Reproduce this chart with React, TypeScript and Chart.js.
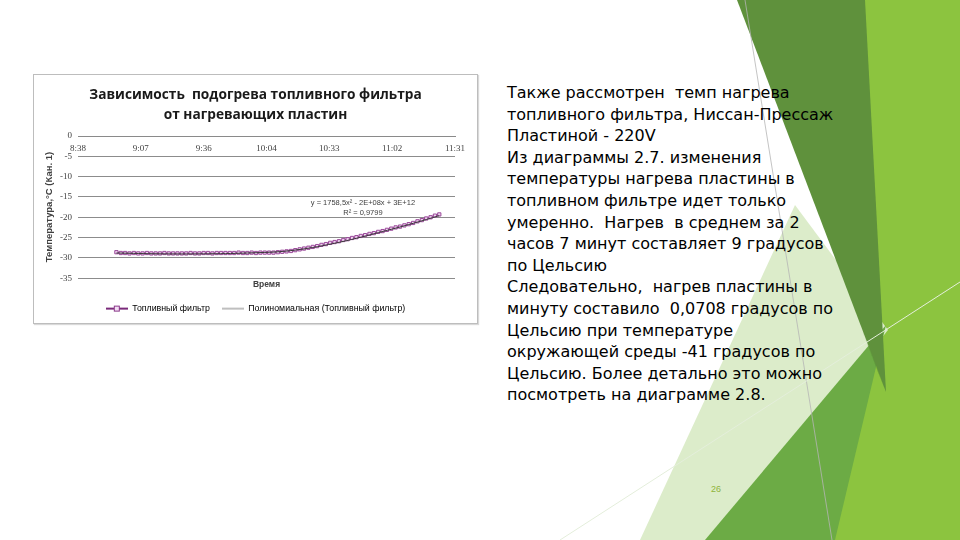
import React, { useEffect, useRef } from "react";
import { Chart, registerables } from "chart.js";

Chart.register(...registerables);

// ---------- chart data ----------
const chartTitle = ["Зависимость  подогрева топливного фильтра", "от нагревающих пластин"];
const yAxisTitle = "Температура,°С (Кан. 1)";
const xAxisTitle = "Время";
const seriesName = "Топливный фильтр";
const trendName = "Полиномиальная (Топливный фильтр)";
const equationLines = ["y = 1758,5x² - 2E+08x + 3E+12", "R² = 0,9799"];
const equationAnchorMinute = 649;
const equationAnchorTemp = -16.4;

// x axis: minutes since midnight
const xTickMinutes = [518.4, 547.2, 576, 604.8, 633.6, 662.4, 691.2];
const xTickLabels = ["8:38", "9:07", "9:36", "10:04", "10:33", "11:02", "11:31"];
const yTickValues = [0, -5, -10, -15, -20, -25, -30, -35];

const timeMinutes = [
  536, 538, 540, 542, 544, 546, 548, 550, 552, 554, 556, 558, 560, 562, 564, 566, 568, 570,
  572, 574, 576, 578, 580, 582, 584, 586, 588, 590, 592, 594, 596, 598, 600, 602, 604, 606,
  608, 610, 612, 614, 616, 618, 620, 622, 624, 626, 628, 630, 632, 634, 636, 638, 640, 642,
  644, 646, 648, 650, 652, 654, 656, 658, 660, 662, 664, 666, 668, 670, 672, 674, 676, 678,
  680, 682, 684,
];
const temperatures = [
  -28.6, -28.8, -28.8, -28.9, -28.8, -28.9, -28.9, -28.8, -28.9, -28.9, -28.9, -28.8, -28.9, -28.9, -28.9, -28.9, -28.9, -28.8,
  -28.9, -28.9, -28.8, -28.8, -28.9, -28.8, -28.8, -28.8, -28.8, -28.8, -28.7, -28.8, -28.8, -28.7, -28.8, -28.7, -28.7, -28.7,
  -28.7, -28.6, -28.5, -28.4, -28.3, -28.1, -27.9, -27.7, -27.5, -27.3, -27.1, -26.8, -26.6, -26.3, -26.1, -25.9, -25.6, -25.4,
  -25.1, -24.9, -24.6, -24.4, -24.1, -23.9, -23.6, -23.4, -23.1, -22.8, -22.5, -22.3, -22.0, -21.7, -21.4, -21.0, -20.7, -20.3,
  -20.0, -19.6, -19.3,
];
const trendMinutes = [536, 556, 576, 596, 616, 636, 656, 672, 684];
const trendValues = [-28.8, -29.0, -29.0, -28.8, -28.2, -26.4, -23.8, -21.5, -19.6];

function fmt(v: number) {
  const i = xTickMinutes.findIndex((m) => Math.abs(m - v) < 0.01);
  return i >= 0 ? xTickLabels[i] : "";
}

function makeSeriesIcon() {
  const c = document.createElement("canvas");
  c.width = 22;
  c.height = 8;
  const g = c.getContext("2d")!;
  g.strokeStyle = "#7a2a7a";
  g.lineWidth = 2;
  g.beginPath();
  g.moveTo(0, 4);
  g.lineTo(22, 4);
  g.stroke();
  g.fillStyle = "#f3dcf3";
  g.fillRect(8, 1.5, 6, 5);
  g.strokeStyle = "#8b3a8b";
  g.lineWidth = 1;
  g.strokeRect(8.5, 1.5, 5, 5);
  return c;
}
function makeTrendIcon() {
  const c = document.createElement("canvas");
  c.width = 22;
  c.height = 4;
  const g = c.getContext("2d")!;
  g.strokeStyle = "#7f7f7f";
  g.lineWidth = 1;
  g.beginPath();
  g.moveTo(0, 2);
  g.lineTo(22, 2);
  g.stroke();
  return c;
}

const equationPlugin = {
  id: "equation",
  afterDatasetsDraw(chart: any) {
    const { ctx, scales } = chart;
    const x = scales.x.getPixelForValue(equationAnchorMinute);
    const y = scales.y.getPixelForValue(equationAnchorTemp);
    ctx.save();
    ctx.font = "7.5px 'Liberation Sans'";
    ctx.fillStyle = "#404040";
    ctx.textAlign = "center";
    ctx.textBaseline = "middle";
    equationLines.forEach((l, i) => ctx.fillText(l, x, y + i * 10.5));
    ctx.restore();
  },
};

const slideLines = [
  "Также рассмотрен  темп нагрева",
  "топливного фильтра, Ниссан-Прессаж",
  "Пластиной - 220V",
  "Из диаграммы 2.7. изменения",
  "температуры нагрева пластины в",
  "топливном фильтре идет только",
  "умеренно.  Нагрев  в среднем за 2",
  "часов 7 минут составляет 9 градусов",
  "по Цельсию",
  "Следовательно,  нагрев пластины в",
  "минуту составило  0,0708 градусов по",
  "Цельсию при температуре",
  "окружающей среды -41 градусов по",
  "Цельсию. Более детально это можно",
  "посмотреть на диаграмме 2.8.",
];

export default function App() {
  const ref = useRef<HTMLCanvasElement>(null);

  useEffect(() => {
    const canvas = ref.current!;
    const icon1 = makeSeriesIcon();
    const icon2 = makeTrendIcon();
    const chart = new Chart(canvas, {
      type: "line",
      data: {
        datasets: [
          {
            label: seriesName,
            data: timeMinutes.map((t, i) => ({ x: t, y: temperatures[i] })),
            borderColor: "#8a3a8a",
            borderWidth: 1.5,
            pointStyle: "rect",
            pointRadius: 2.3,
            pointBorderWidth: 1,
            pointBackgroundColor: "#efd3ef",
            pointBorderColor: "#9a4a9a",
            tension: 0,
            order: 1,
          },
          {
            label: trendName,
            data: trendMinutes.map((t, i) => ({ x: t, y: trendValues[i] })),
            borderColor: "#3a3a3a",
            borderWidth: 1,
            pointRadius: 0,
            tension: 0.4,
            order: 0,
          },
        ],
      },
      options: {
        responsive: false,
        animation: false,
        layout: { padding: { left: 0, right: 0, top: 0, bottom: 0 } },
        plugins: {
          title: {
            display: true,
            text: chartTitle,
            color: "#1a1a1a",
            font: { family: "'Open Sans'", size: 13.7, weight: "bold", lineHeight: 20 / 13.7 },
            padding: { top: 10, bottom: 11 },
          },
          legend: {
            display: true,
            position: "bottom",
            labels: {
              usePointStyle: true,
              pointStyleWidth: 22,
              boxHeight: 8,
              padding: 12,
              color: "#595959",
              font: { family: "'Liberation Sans'", size: 8.8 },
              generateLabels: () => [
                { text: seriesName, pointStyle: icon1 as any, fillStyle: "#fff", strokeStyle: "#fff", lineWidth: 0, hidden: false, datasetIndex: 0 },
                { text: trendName, pointStyle: icon2 as any, fillStyle: "#fff", strokeStyle: "#fff", lineWidth: 0, hidden: false, datasetIndex: 1 },
              ],
            },
          },
          tooltip: { enabled: false },
        },
        scales: {
          x: {
            type: "linear",
            position: { y: 0 } as any,
            min: xTickMinutes[0],
            max: xTickMinutes[xTickMinutes.length - 1],
            afterBuildTicks: (s: any) => {
              s.ticks = xTickMinutes.map((v) => ({ value: v }));
            },
            grid: { display: true, drawOnChartArea: false, drawTicks: false },
            border: { display: true, color: "#8a8a8a", width: 1 },
            ticks: {
              autoSkip: false,
              maxRotation: 0,
              padding: 7,
              color: "#404040",
              font: { family: "'Liberation Serif'", size: 9 },
              callback: (v: any) => fmt(Number(v)),
            },
          },
          x2: {
            type: "linear",
            position: "bottom",
            display: true,
            grid: { display: false, drawTicks: false },
            border: { display: false },
            ticks: { display: false },
            title: {
              display: true,
              text: xAxisTitle,
              color: "#404040",
              font: { family: "'Liberation Sans'", size: 8.5, weight: "bold", lineHeight: 1.2 },
              padding: { top: 0, bottom: 2 },
            },
            afterFit: (s: any) => {
              s.height = 14;
            },
          },
          y: {
            type: "linear",
            min: -35,
            max: 0,
            afterBuildTicks: (s: any) => {
              s.ticks = yTickValues.map((v) => ({ value: v }));
            },
            grid: { color: "#8c8c8c", lineWidth: 1, drawTicks: false },
            border: { display: false },
            ticks: {
              padding: 6,
              color: "#404040",
              font: { family: "'Liberation Serif'", size: 9 },
            },
            title: {
              display: true,
              text: yAxisTitle,
              color: "#404040",
              font: { family: "'Liberation Sans'", size: 9.5, weight: "bold", lineHeight: 1.2 },
              padding: { top: 10, bottom: 0 },
            },
            afterFit: (s: any) => {
              s.width = 44;
            },
          },
          y2: {
            type: "linear",
            position: "right",
            display: true,
            grid: { display: false, drawTicks: false },
            border: { display: false },
            ticks: { display: false },
            afterFit: (s: any) => {
              s.width = 22;
            },
          },
        },
      } as any,
      plugins: [equationPlugin],
    });
    return () => chart.destroy();
  }, []);

  return (
    <div
      style={{
        position: "absolute",
        left: 0,
        top: 0,
        width: 960,
        height: 540,
        overflow: "hidden",
        background: "#ffffff",
      }}
    >
      <svg width={960} height={540} style={{ position: "absolute", left: 0, top: 0 }}>
        <polygon points="862,0 960,0 960,540 815,540" fill="#8cc43f" />
        <polygon points="795,205 888,330 720,540 640,540" fill="#dcecca" />
        <polygon points="886,325 835,540 705,540" fill="#6cab45" />
        <polygon points="737,0 865,0 886,392" fill="#5f913c" />
        <polygon points="862,330 886,392 878,372" fill="#4f8530" />
        <line x1={745} y1={0} x2={832} y2={540} stroke="#b5b5b5" strokeWidth={0.8} />
        <line x1={560} y1={540} x2={960} y2={282} stroke="#e4eedb" strokeWidth={1} />
      </svg>
      <div
        style={{
          position: "absolute",
          left: 33,
          top: 74,
          width: 445,
          height: 250,
          border: "1px solid #bdbdbd",
          boxSizing: "border-box",
          background: "#fff",
          boxShadow: "1px 1px 1px rgba(0,0,0,0.15)",
        }}
      >
        <canvas ref={ref} width={443} height={248} style={{ display: "block", width: 443, height: 248 }} />
      </div>
      <div
        style={{
          position: "absolute",
          left: 507,
          top: 82,
          fontFamily: "'DejaVu Sans'",
          fontSize: 16,
          lineHeight: "21.6px",
          color: "#000",
          whiteSpace: "pre",
        }}
      >
        {slideLines.map((l, i) => (
          <div key={i}>{l}</div>
        ))}
      </div>
      <div
        style={{
          position: "absolute",
          left: 711,
          top: 484,
          fontFamily: "'Liberation Sans'",
          fontSize: 9,
          color: "#8fb43a",
        }}
      >
        26
      </div>
    </div>
  );
}
